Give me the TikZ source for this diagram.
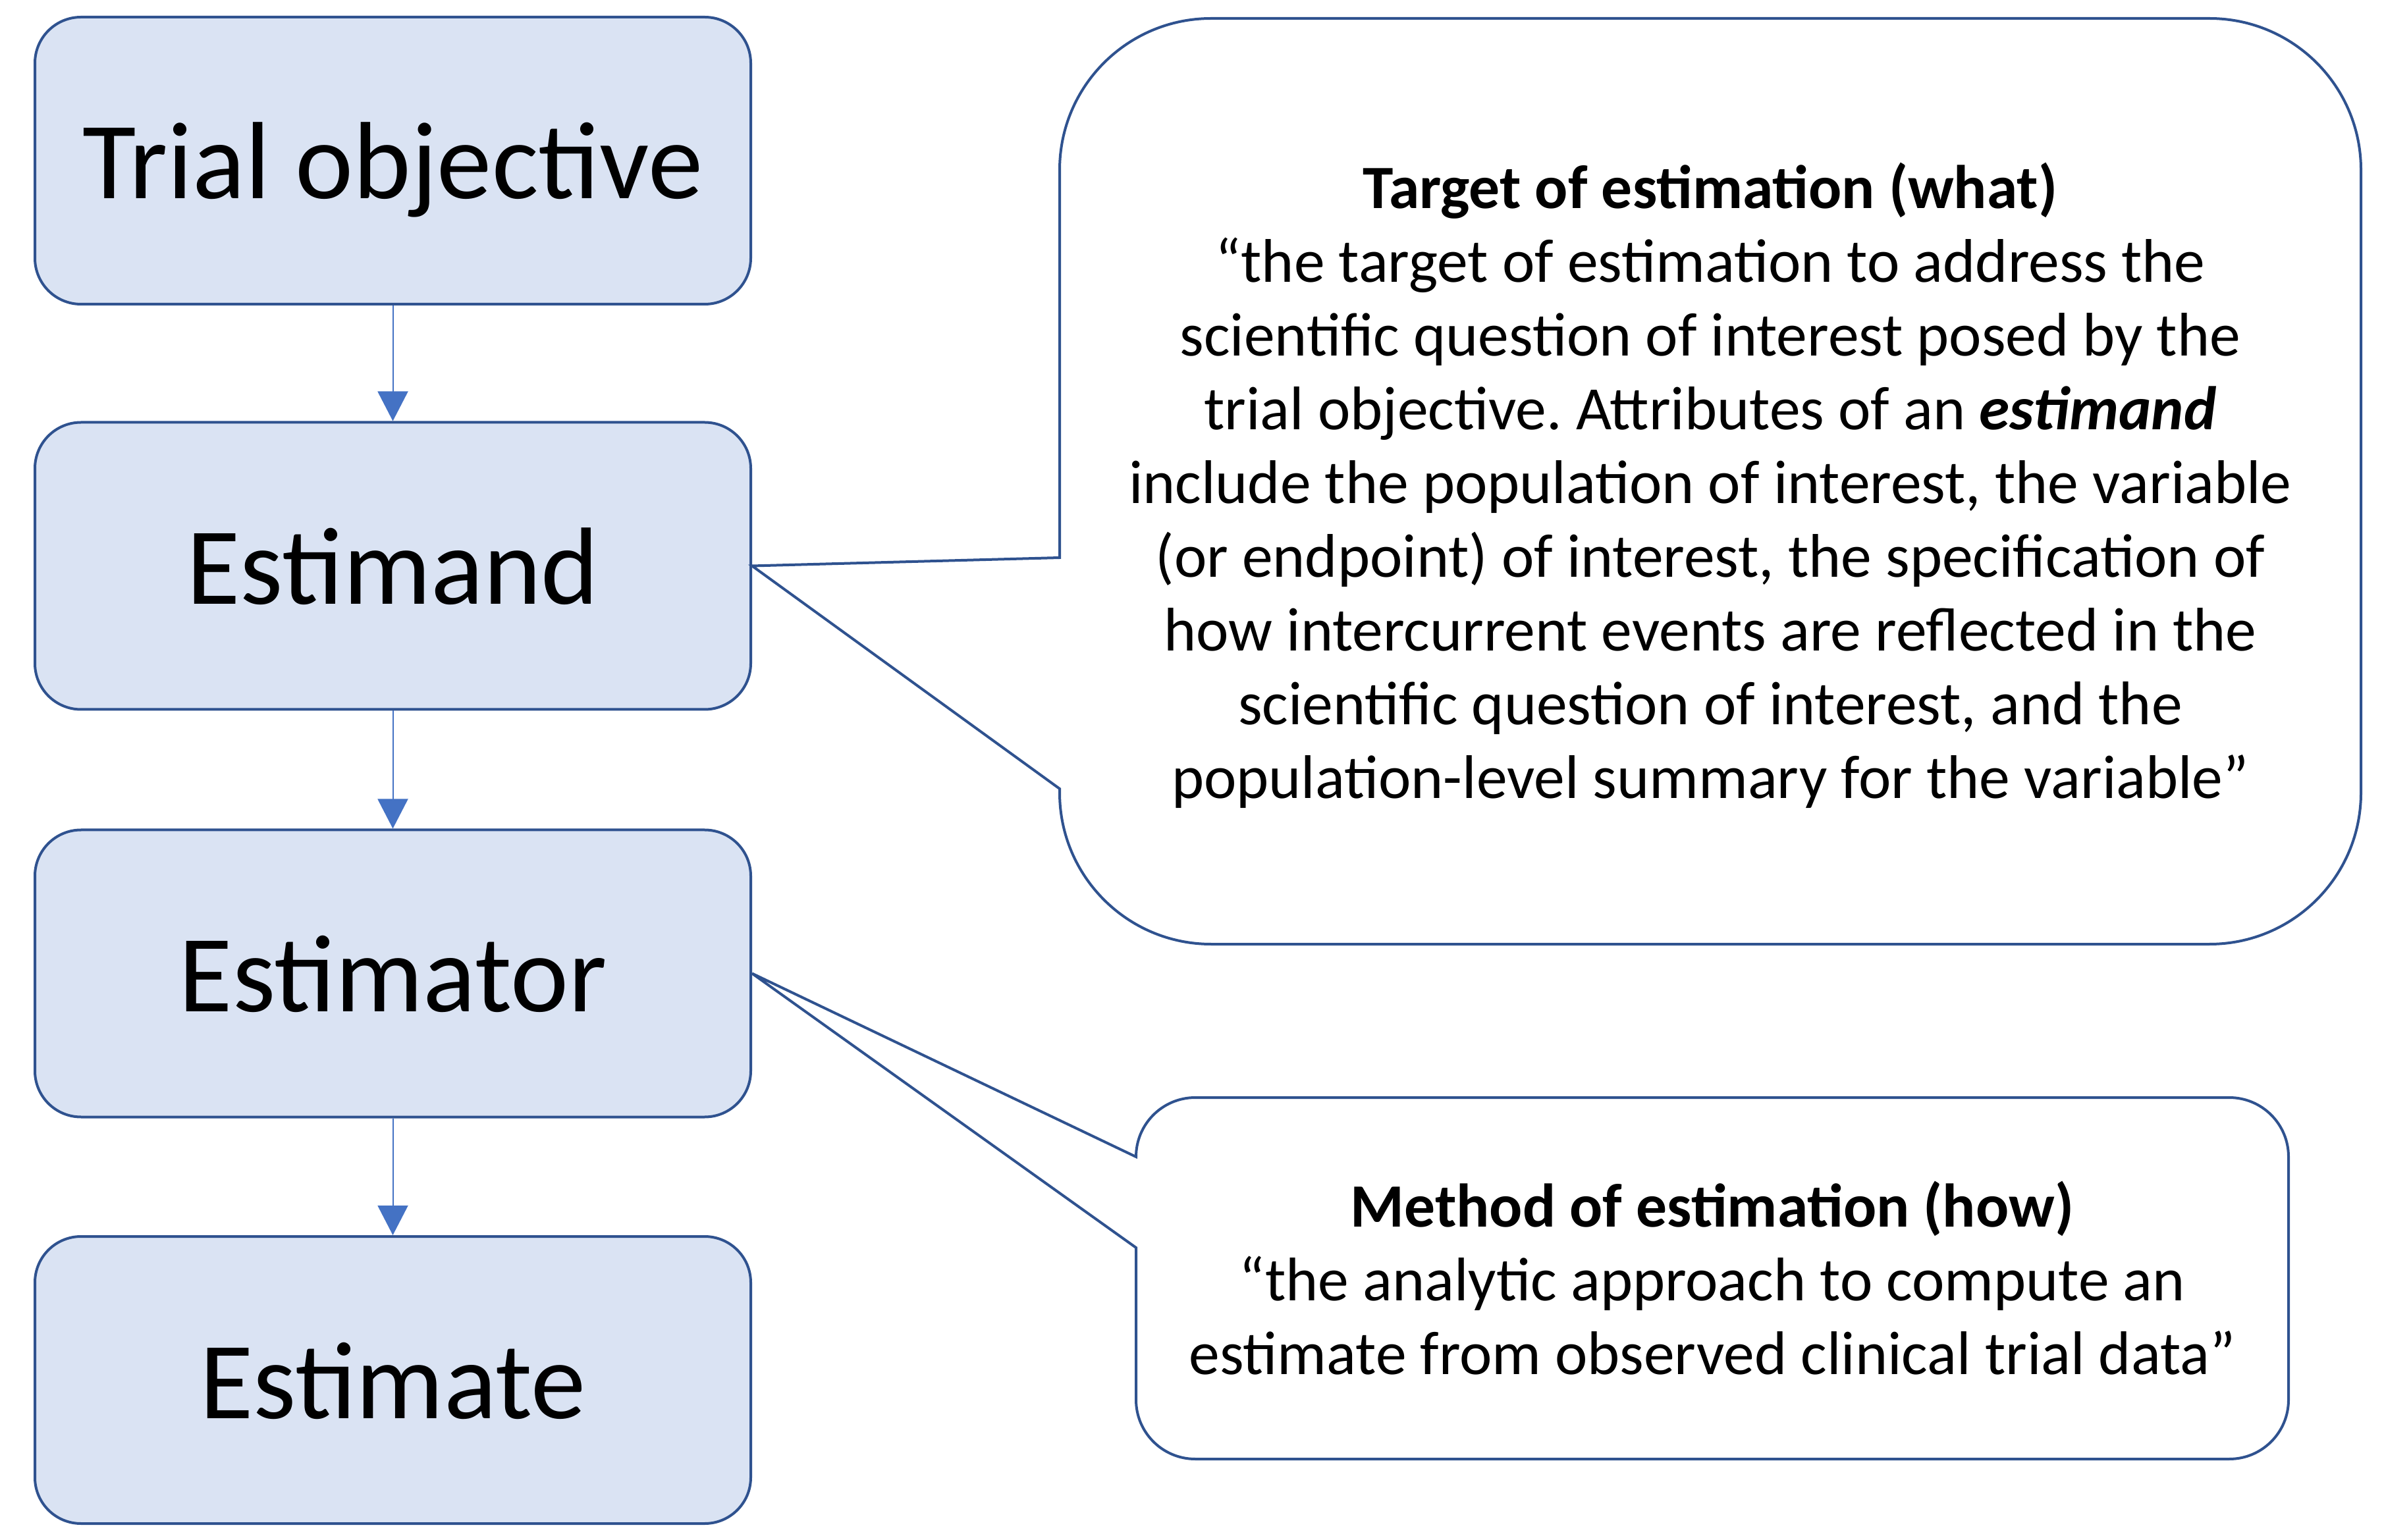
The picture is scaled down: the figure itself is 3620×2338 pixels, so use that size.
\documentclass[tikz,border=0pt]{standalone}
\usepackage{fontspec}
\setmainfont{Carlito}
\frenchspacing
\usetikzlibrary{arrows.meta}
\definecolor{boxfill}{HTML}{DAE3F3}
\definecolor{boxline}{HTML}{2F528F}
\definecolor{arrowblue}{HTML}{4472C4}
\tikzset{
  stagebox/.style={draw=boxline, fill=boxfill, line width=1pt, rounded corners=17.5pt,
    minimum width=271.75pt, minimum height=109pt, inner sep=0pt,
    text height=40pt, text depth=11pt,
    font=\fontsize{41.7}{50}\selectfont},
  flowarrow/.style={draw=arrowblue, line width=0.5pt, -{Triangle[width=11.5pt,length=11.25pt]}},
  calloutline/.style={draw=boxline, line width=1pt, fill=white, line join=miter},
  callouttext/.style={align=center, inner sep=0pt, font=\fontsize{23.4}{28}\selectfont}
}
\begin{document}
\begin{tikzpicture}[x=0.25pt, y=0.25pt]
\path[use as bounding box] (0,0) rectangle (3620,2338);

\node[stagebox] (obj)  at (596.5,2094)   {Trial objective};
\node[stagebox] (est)  at (596.5,1478.5) {Estimand};
\node[stagebox] (estr) at (596.5,859.5)  {Estimator};
\node[stagebox] (esti) at (596.5,242)    {Estimate};

\draw[flowarrow] (obj.south) -- (est.north);
\draw[flowarrow] (est.south) -- (estr.north);
\draw[flowarrow] (estr.south) -- (esti.north);

% callout 1
\draw[calloutline] (1609,1491) -- (est.east) -- (1609,1140) -- (1609,1134)
  arc[start angle=180, end angle=270, radius=57.5pt] -- (3355,904)
  arc[start angle=270, end angle=360, radius=57.5pt] -- (3585,2080)
  arc[start angle=0, end angle=90, radius=57.5pt] -- (1839,2310)
  arc[start angle=90, end angle=180, radius=57.5pt] -- cycle;
\node[callouttext] (what) at (2597,1601) {\textbf{Target of estimation (what)}\\
“the target of estimation to address the\\
scientific question of interest posed by the\\
trial objective. Attributes of an \textbf{\textit{estimand}}\\
include the population of interest, the variable\\
(or endpoint) of interest, the specification of\\
how intercurrent events are reflected in the\\
scientific question of interest, and the\\
population-level summary for the variable”};

% callout 2
\draw[calloutline] (1725,581) -- (estr.east) -- (1725,443) -- (1725,212)
  arc[start angle=180, end angle=270, radius=22.5pt] -- (3385,122)
  arc[start angle=270, end angle=360, radius=22.5pt] -- (3475,581)
  arc[start angle=0, end angle=90, radius=22.5pt] -- (1815,671)
  arc[start angle=90, end angle=180, radius=22.5pt] -- cycle;
\node[callouttext] (how) at (2600,397) {\textbf{Method of estimation (how)}\\
“the analytic approach to compute an\\
estimate from observed clinical trial data”};
\end{tikzpicture}
\end{document}
